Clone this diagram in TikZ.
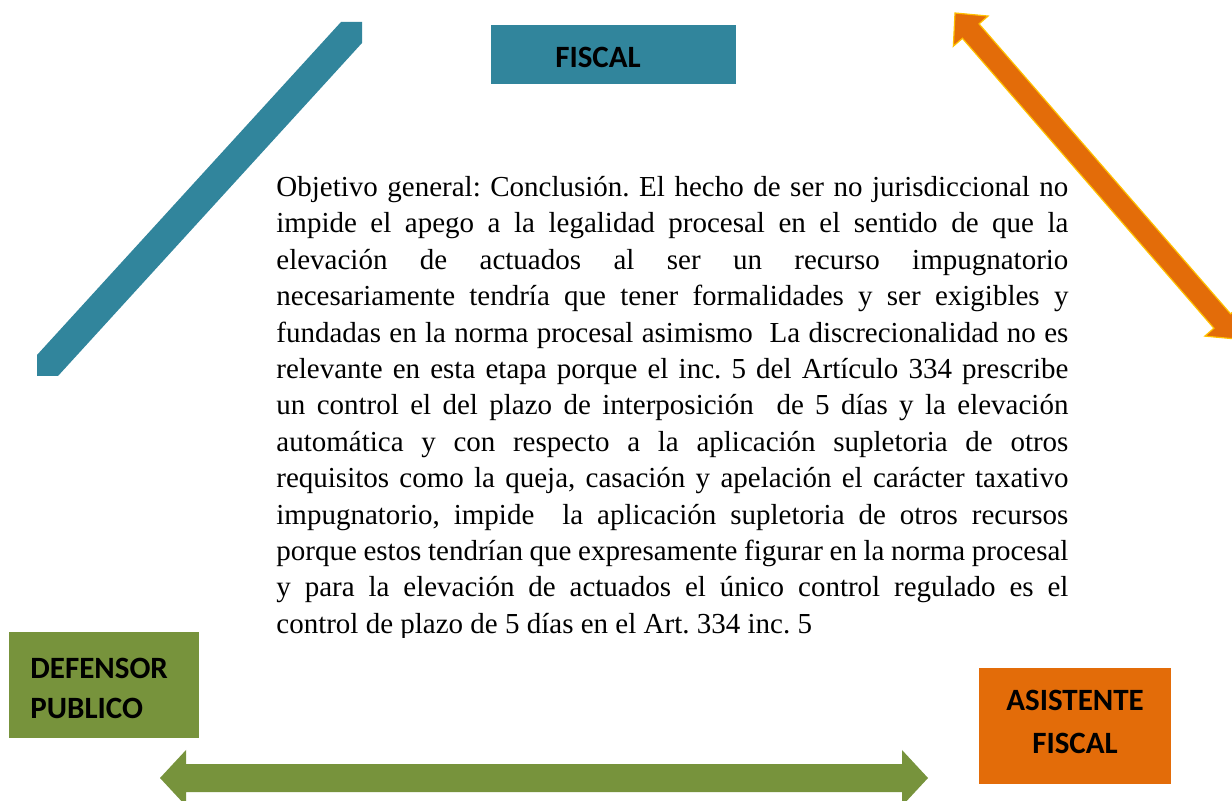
\documentclass[tikz,border=0pt]{standalone}
\usepackage{fontspec}
\setmainfont{Liberation Serif}
\newfontfamily\labfont{Carlito}
\usetikzlibrary{calc}
\definecolor{tealc}{HTML}{31859C}
\definecolor{greenc}{HTML}{77933C}
\definecolor{orangec}{HTML}{E36C09}
\definecolor{goldc}{HTML}{FFC000}
\frenchspacing
\begin{document}
\begin{tikzpicture}[x=0.5pt,y=-0.5pt,
  rolebox/.style={inner sep=0pt, outer sep=0pt, draw=none},
  rolelabel/.style={inner sep=0pt, align=#1, font=\labfont\bfseries\fontsize{15.5pt}{20pt}\selectfont, text=black},
]
\clip (0,0) rectangle (1232,801);
\fill[white] (0,0) rectangle (1232,801);

% teal diagonal bar
\coordinate (tA) at (341,22);
\coordinate (tB) at (362,22);
\coordinate (tC) at (362,43);
\coordinate (tD) at (58,376);
\coordinate (tE) at (37,376);
\coordinate (tF) at (37,355);
\fill[tealc] (tA) -- (tB) -- (tC) -- (tD) -- (tE) -- (tF) -- cycle;

% orange double arrow
\coordinate (oT) at (955,13);
\coordinate (od) at (0.655,0.755);
\coordinate (on) at (0.755,-0.655);
\fill[orangec, draw=goldc, line width=0.6pt, line join=miter]
  (oT)
  -- ($(oT)+24*(od)+23*(on)$)
  -- ($(oT)+24*(od)+11*(on)$)
  -- ($(oT)+408*(od)+11*(on)$)
  -- ($(oT)+408*(od)+23*(on)$)
  -- ($(oT)+432*(od)$)
  -- ($(oT)+408*(od)-23*(on)$)
  -- ($(oT)+408*(od)-11*(on)$)
  -- ($(oT)+24*(od)-11*(on)$)
  -- ($(oT)+24*(od)-23*(on)$)
  -- cycle;

% green double arrow
\coordinate (gL) at (160,778);
\coordinate (gR) at (928,778);
\fill[greenc]
  (gL) -- (186,750) -- (186,764) -- (902,764) -- (902,750) -- (gR)
  -- (902,806) -- (902,792) -- (186,792) -- (186,806) -- cycle;

% boxes
\node[rolebox, fill=tealc, minimum width=122.5pt, minimum height=29.5pt] (fiscalbox) at (613.5,54.5) {};
\node[rolelabel=center] (fiscal) at (598,57) {FISCAL};

\node[rolebox, fill=greenc, minimum width=95pt, minimum height=53pt] (defbox) at (104,685) {};
\node[rolelabel=left, anchor=west] (defensor) at (30,688) {DEFENSOR\\PUBLICO};

\node[rolebox, fill=orangec, minimum width=96pt, minimum height=58pt] (asisbox) at (1075,726) {};
\node[rolelabel=center, font=\labfont\bfseries\fontsize{15.5pt}{21.5pt}\selectfont] (asistente) at (1075,721.5) {ASISTENTE\\FISCAL};

% main text
\begin{scope}
\clip (260,150) rectangle (1100,638);
\node[inner sep=0pt, anchor=north west, align=left,
      font=\fontsize{14.5pt}{18.2pt}\selectfont] (texto) at (276,176) {%
\makebox[396pt][s]{Objetivo general: Conclusión. El hecho de ser no jurisdiccional no}\\
\makebox[396pt][s]{impide el apego a la legalidad procesal en el sentido de que la}\\
\makebox[396pt][s]{elevación de actuados al ser un recurso impugnatorio}\\
\makebox[396pt][s]{necesariamente tendría que tener formalidades y ser exigibles y}\\
\makebox[396pt][s]{fundadas en la norma procesal asimismo\ \ La discrecionalidad no es}\\
\makebox[396pt][s]{relevante en esta etapa porque el inc. 5 del Artículo 334 prescribe}\\
\makebox[396pt][s]{un control el del plazo de interposición\ \ de 5 días y la elevación}\\
\makebox[396pt][s]{automática y con respecto a la aplicación supletoria de otros}\\
\makebox[396pt][s]{requisitos como la queja, casación y apelación el carácter taxativo}\\
\makebox[396pt][s]{impugnatorio, impide\ \ la aplicación supletoria de otros recursos}\\
\makebox[396pt][s]{porque estos tendrían que expresamente figurar en la norma procesal}\\
\makebox[396pt][s]{y para la elevación de actuados el único control regulado es el}\\
control de plazo de 5 días en el Art. 334 inc. 5};
\end{scope}
\end{tikzpicture}
\end{document}
